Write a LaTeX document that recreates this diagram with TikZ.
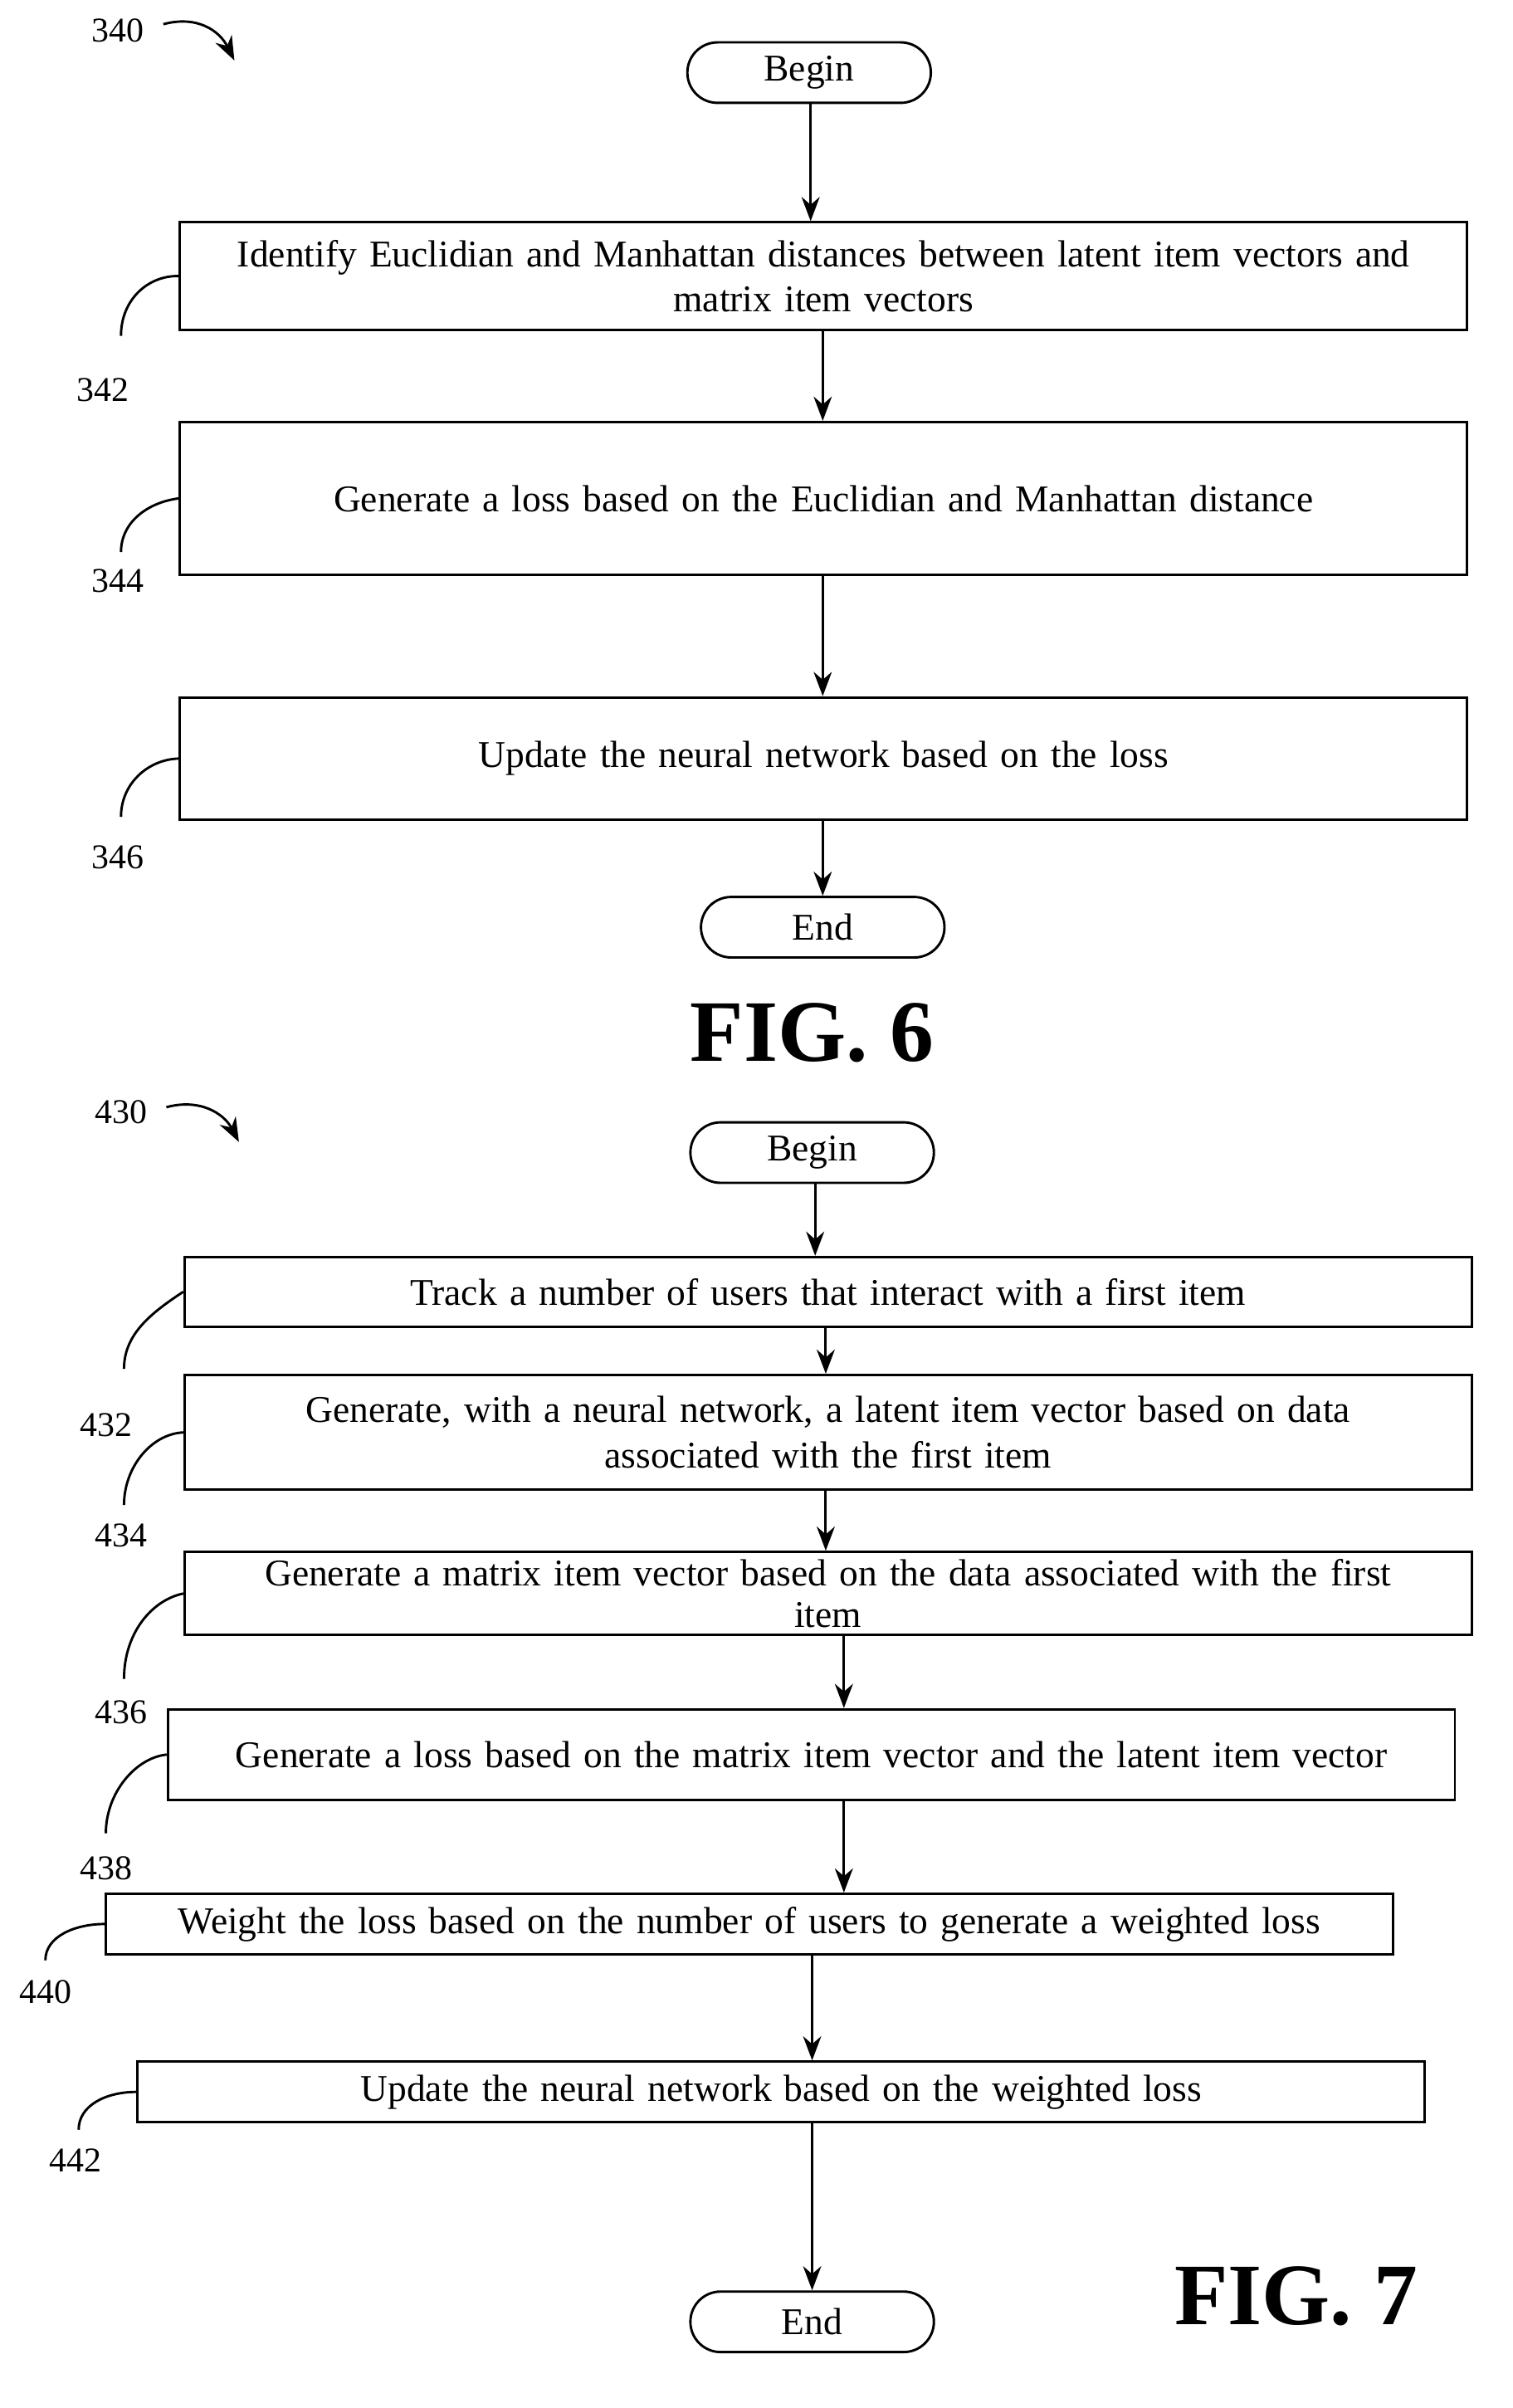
\documentclass[tikz,border=0pt]{standalone}
\usepackage{fontspec}
\setmainfont{Liberation Serif}
\usetikzlibrary{arrows.meta}
\def\u{0.0176cm}
\tikzset{
  stepbox/.style={draw,thick,rectangle,minimum width=851*\u,text width=845*\u,align=center,inner sep=1pt,font=\fontsize{12.5}{15}\selectfont},
  term/.style={draw,thick,rounded corners=10pt,minimum width=161*\u,minimum height=40*\u,font=\fontsize{12.5}{15}\selectfont},
  flow/.style={thick,-{Stealth[length=8pt,width=6pt]}},
  ref/.style={font=\fontsize{11.5}{13}\selectfont},
  lead/.style={thick},
  fig/.style={font=\bfseries\fontsize{29}{30}\selectfont}
}
\begin{document}
\begin{tikzpicture}[x=\u,y=-\u]
  \useasboundingbox (0,0) rectangle (1000,1592);
  % FIG. 6
  \node[ref] (n340) at (78,20) {340};
  \draw[flow] (108,16) .. controls (130,10) and (145,20) .. (155,40);
  \node[term] (begin6) at (535,48) {Begin};
  \node[stepbox,minimum height=71*\u] (s342) at (544.5,182.5) {Identify Euclidian and Manhattan distances between latent item vectors and\\ matrix item vectors};
  \node[stepbox,minimum height=101*\u] (s344) at (544.5,329.5) {Generate a loss based on the Euclidian and Manhattan distance};
  \node[stepbox,minimum height=81*\u] (s346) at (544.5,501.5) {Update the neural network based on the loss};
  \node[term] (end6) at (544,613) {End};
  \node[fig] (fig6) at (537,683) {FIG. 6};
  \draw[flow] (begin6.south -| 536,0) -- (s342.north -| 536,0);
  \draw[flow] (s342.south -| 544,0) -- (s344.north -| 544,0);
  \draw[flow] (s344.south -| 544,0) -- (s346.north -| 544,0);
  \draw[flow] (s346.south -| 544,0) -- (end6.north -| 544,0);
  % reference numerals
  \node[ref] (n342) at (68,258) {342};
  \node[ref] (n344) at (78,384) {344};
  \node[ref] (n346) at (78,567) {346};
  \draw[lead] (80,222) .. controls (80,198) and (98,182) .. (s342.west);
  \draw[lead] (80,365) .. controls (80,345) and (98,332) .. (s344.west);
  \draw[lead] (80,540) .. controls (80,518) and (98,502) .. (s346.west);
  % FIG. 7
  \node[ref] (n430) at (80,735) {430};
  \draw[flow] (110,732) .. controls (132,726) and (148,736) .. (158,755);
  \node[term] (begin7) at (537,762) {Begin};
  \node[stepbox,minimum height=46*\u] (s432) at (547.5,854) {Track a number of users that interact with a first item};
  \node[stepbox,minimum height=76*\u] (s434) at (547.5,947) {Generate, with a neural network, a latent item vector based on data\\ associated with the first item};
  \node[stepbox,minimum height=55*\u,font=\fontsize{12.5}{13.5}\selectfont] (s436) at (547.5,1053.5) {Generate a matrix item vector based on the data associated with the first\\ item};
  \node[stepbox,minimum height=60*\u] (s438) at (536.5,1160) {Generate a loss based on the matrix item vector and the latent item vector};
  \node[stepbox,minimum height=40*\u] (s440) at (495.5,1272) {Weight the loss based on the number of users to generate a weighted loss};
  \node[stepbox,minimum height=40*\u] (s442) at (516.5,1383) {Update the neural network based on the weighted loss};
  \node[term] (end7) at (537,1535) {End};
  \node[fig] (fig7) at (857,1518) {FIG. 7};
  \draw[flow] (begin7.south -| 539,0) -- (s432.north -| 539,0);
  \draw[flow] (s432.south -| 546,0) -- (s434.north -| 546,0);
  \draw[flow] (s434.south -| 546,0) -- (s436.north -| 546,0);
  \draw[flow] (s436.south -| 558,0) -- (s438.north -| 558,0);
  \draw[flow] (s438.south -| 558,0) -- (s440.north -| 558,0);
  \draw[flow] (s440.south -| 537,0) -- (s442.north -| 537,0);
  \draw[flow] (s442.south -| 537,0) -- (end7.north -| 537,0);
  % reference numerals
  \node[ref] (n432) at (70,942) {432};
  \node[ref] (n434) at (80,1015) {434};
  \node[ref] (n436) at (80,1132) {436};
  \node[ref] (n438) at (70,1235) {438};
  \node[ref] (n440) at (30,1317) {440};
  \node[ref] (n442) at (50,1428) {442};
  \draw[lead] (82,905) .. controls (82,882) and (100,868) .. (s432.west);
  \draw[lead] (82,995) .. controls (82,970) and (100,948) .. (s434.west);
  \draw[lead] (82,1110) .. controls (82,1080) and (100,1058) .. (s436.west);
  \draw[lead] (70,1212) .. controls (70,1185) and (90,1162) .. (s438.west);
  \draw[lead] (30,1296) .. controls (30,1280) and (50,1272) .. (s440.west);
  \draw[lead] (52,1408) .. controls (52,1392) and (70,1383) .. (s442.west);
\end{tikzpicture}
\end{document}
